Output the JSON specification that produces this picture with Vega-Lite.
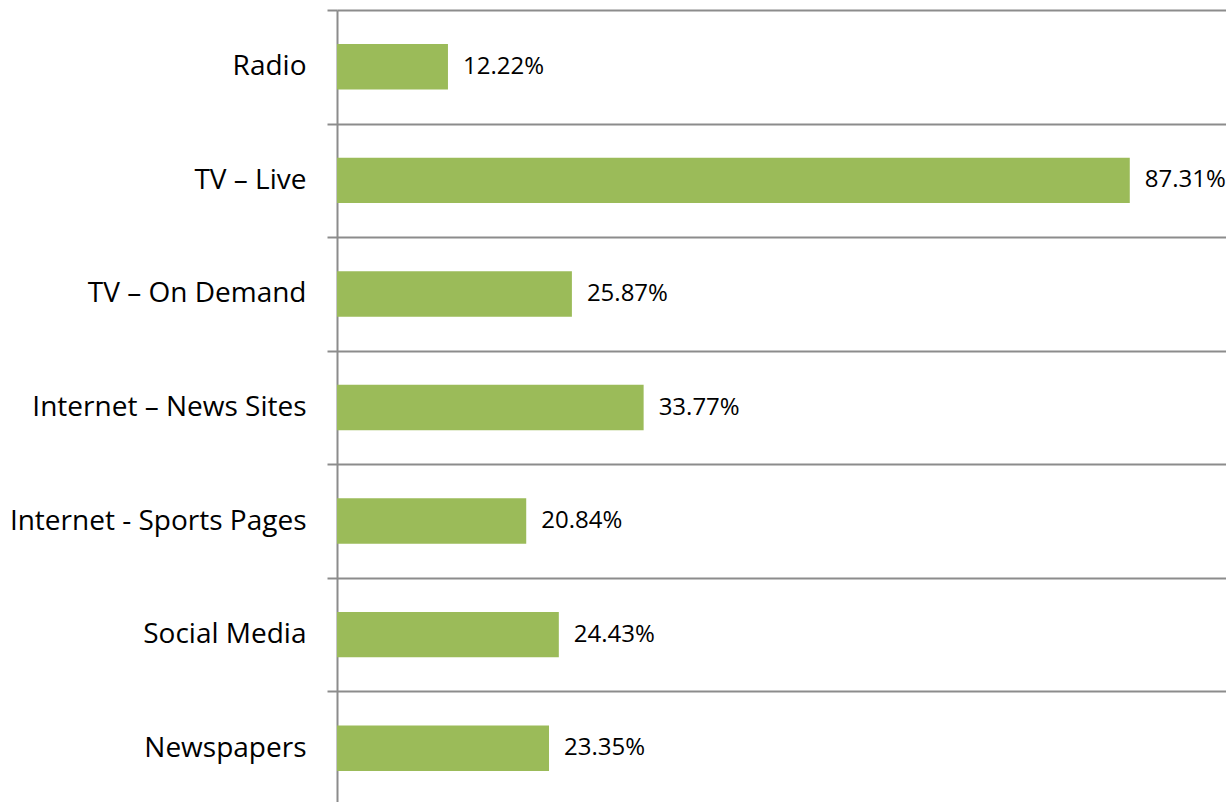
{
  "$schema": "https://vega.github.io/schema/vega-lite/v6.json",
  "autosize": "none",
  "width": 908,
  "height": 795,
  "padding": {"left": 337, "top": 10, "right": 0, "bottom": 0},
  "background": "white",
  "config": {"view": {"stroke": null}, "font": "Open Sans"},
  "data": {"values": [
    {"medium": "Radio", "share": 0.1222},
    {"medium": "TV – Live", "share": 0.8731},
    {"medium": "TV – On Demand", "share": 0.2587},
    {"medium": "Internet – News Sites", "share": 0.3377},
    {"medium": "Internet - Sports Pages", "share": 0.2084},
    {"medium": "Social Media", "share": 0.2443},
    {"medium": "Newspapers", "share": 0.2335}
  ]},
  "encoding": {
    "y": {
      "field": "medium", "type": "nominal", "sort": null, "title": null,
      "scale": {"paddingInner": 0, "paddingOuter": 0},
      "axis": {
        "tickBand": "extent", "grid": true, "gridColor": "#8c8c8c", "gridWidth": 2, "gridOpacity": 1,
        "domainColor": "#8c8c8c", "domainWidth": 2,
        "tickColor": "#8c8c8c", "tickWidth": 2, "tickSize": 10,
        "labelPadding": 21, "labelFont": "Open Sans", "labelFontSize": 28, "labelColor": "#000000",
        "labelLimit": 400
      }
    },
    "x": {
      "field": "share", "type": "quantitative", "title": null,
      "scale": {"domain": [0, 1], "nice": false},
      "axis": null
    }
  },
  "layer": [
    {"mark": {"type": "bar", "color": "#9bbb59", "height": {"band": 0.4}}},
    {"mark": {"type": "text", "align": "left", "baseline": "middle", "dx": 15, "font": "Open Sans", "fontSize": 24, "color": "#000000"},
     "encoding": {"text": {"field": "share", "type": "quantitative", "format": ".2%"}}}
  ]
}
